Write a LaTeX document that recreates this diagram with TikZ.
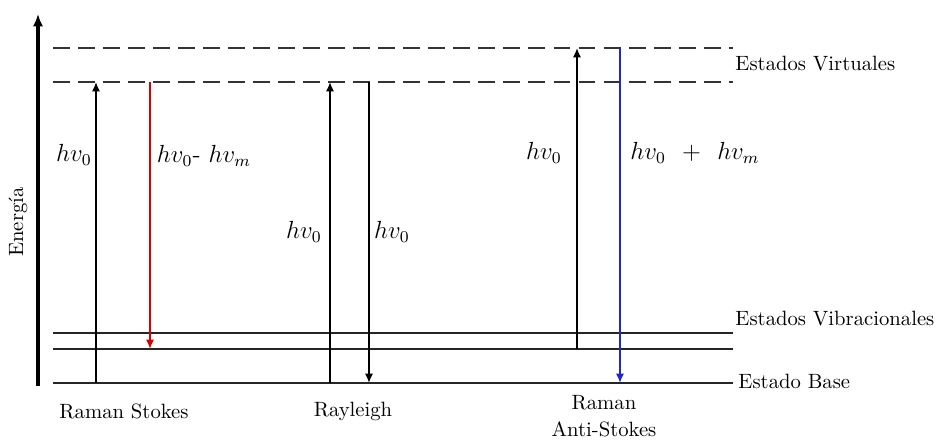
\documentclass[tikz,border=0pt]{standalone}
\usepackage{amsmath}
\usepackage{amssymb}
\usetikzlibrary{arrows.meta}
\definecolor{stokesred}{RGB}{215,0,0}
\definecolor{antiblue}{RGB}{30,40,205}
\tikzset{level/.style={line width=1pt, draw=black!85}}
\tikzset{virtual/.style={line width=1pt, draw=black!80, dash pattern=on 8.2pt off 3.9pt}}
\tikzset{photon/.style={line width=1.4pt,-{Latex[length=4.5pt,width=4pt]}}}
\tikzset{emit/.style={line width=1.1pt,-{Latex[length=4.5pt,width=4pt]}}}
\tikzset{lbl/.style={font=\large}}

\begin{document}
\begin{tikzpicture}[x=0.4835pt,y=-0.4835pt]
\useasboundingbox (0,0) rectangle (939,441);

% columns and levels
\coordinate (L) at (53,0);
\coordinate (R) at (733,0);
\coordinate (virthi) at (0,48);
\coordinate (virtlo) at (0,82);
\coordinate (vibhi) at (0,333);
\coordinate (viblo) at (0,349);
\coordinate (base) at (0,383);
\coordinate (rsup) at (96,0);
\coordinate (rsdown) at (150,0);
\coordinate (rlup) at (330,0);
\coordinate (rldown) at (369,0);
\coordinate (asup) at (577,0);
\coordinate (asdown) at (620,0);

% energy axis
\coordinate (axbot) at (38,386);
\coordinate (axtop) at (38,14);
\draw[line width=1.9pt,-{Latex[length=6pt,width=5pt]}] (axbot) -- (axtop);
\node[rotate=90] (energia) at (18,222) {Energía};

% levels
\draw[virtual] (L |- virthi) -- (R |- virthi);
\draw[virtual] (L |- virtlo) -- (R |- virtlo);
\draw[level] (L |- vibhi) -- (R |- vibhi);
\draw[level] (L |- viblo) -- (R |- viblo);
\draw[level] (L |- base) -- (R |- base);

\node[anchor=west, inner xsep=1pt] (virtlbl) at (733,64) {Estados Virtuales};
\node[anchor=west, inner xsep=1pt] (viblbl) at (733,319) {Estados Vibracionales};
\node[anchor=west, inner xsep=1pt] (baselbl) at (736,381) {Estado Base};

% Raman Stokes
\draw[photon] (rsup |- base) -- (rsup |- virtlo);
\draw[emit, stokesred] (rsdown |- virtlo) -- (rsdown |- viblo);
\node[lbl] (rsin) at (74,155) {$hv_0$};
\node[lbl] (rsout) at (204,156) {$hv_0$- $hv_m$};
\node (rsname) at (124,411) {Raman Stokes};

% Rayleigh
\draw[photon] (rlup |- base) -- (rlup |- virtlo);
\draw[photon] (rldown |- virtlo) -- (rldown |- base);
\node[lbl] (rlin) at (304,232) {$hv_0$};
\node[lbl] (rlout) at (392,232) {$hv_0$};
\node (rlname) at (353,411) {Rayleigh};

% Raman Anti-Stokes
\draw[photon] (asup |- viblo) -- (asup |- virthi);
\draw[emit, antiblue] (asdown |- virthi) -- (asdown |- base);
\node[lbl] (asin) at (544,153) {$hv_0$};
\node[lbl] (asout) at (695,153) {$hv_0$ \ + \ $hv_m$};
\node[align=center, inner sep=0pt] (asname) at (604,416) {Raman\\[1pt]Anti-Stokes};

\end{tikzpicture}
\end{document}
